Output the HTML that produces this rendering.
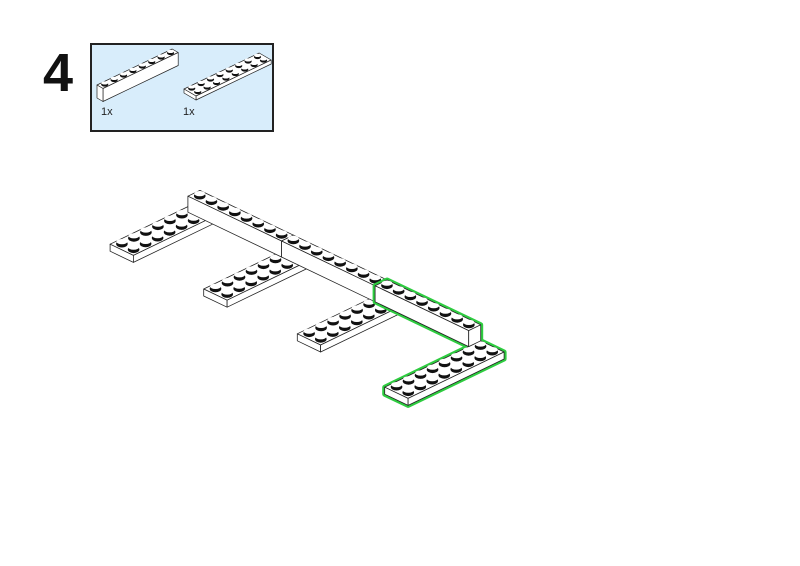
<!DOCTYPE html>
<html><head><meta charset="utf-8"><style>
body{margin:0;background:#fff;width:800px;height:566px;overflow:hidden}
svg{position:absolute;left:0;top:0}
</style></head><body>
<svg id="s" width="800" height="566" xmlns="http://www.w3.org/2000/svg">
<rect x="91" y="44" width="182" height="87" fill="#d8edfb" stroke="#222" stroke-width="2"/>
<text x="43" y="91" font-family="Liberation Sans, sans-serif" font-weight="bold" font-size="54" fill="#111">4</text>
<text x="101" y="115" font-family="Liberation Sans, sans-serif" font-size="11" fill="#222">1x</text>
<text x="183" y="115" font-family="Liberation Sans, sans-serif" font-size="11" fill="#222">1x</text>
<g id="g"></g>
</svg>
<script>
var NS="http://www.w3.org/2000/svg",G=document.getElementById('g');
function mk(X0,Y0,s){return function(u,v,h){return [X0+s*(11.7*u-12*v),Y0+s*(5.6*u+5.8*v)-s*h];};}
function poly(pts,fill,stroke,sw){var p=document.createElementNS(NS,'polygon');p.setAttribute('points',pts.map(function(q){return q[0].toFixed(1)+','+q[1].toFixed(1)}).join(' '));p.setAttribute('fill',fill);p.setAttribute('stroke',stroke);p.setAttribute('stroke-width',sw);p.setAttribute('stroke-linejoin','round');G.appendChild(p);}
function ell(cx,cy,rx,ry,f){var e=document.createElementNS(NS,'ellipse');e.setAttribute('cx',cx);e.setAttribute('cy',cy);e.setAttribute('rx',rx);e.setAttribute('ry',ry);e.setAttribute('fill',f);G.appendChild(e);}
function box(P,u0,u1,v0,v1,h0,h1,stroke,sw){
 stroke=stroke||'#222';sw=sw||0.8;
 poly([P(u0,v0,h1),P(u1,v0,h1),P(u1,v1,h1),P(u0,v1,h1)],'#fff',stroke,sw);
 poly([P(u0,v1,h1),P(u1,v1,h1),P(u1,v1,h0),P(u0,v1,h0)],'#fff',stroke,sw);
 poly([P(u1,v0,h1),P(u1,v1,h1),P(u1,v1,h0),P(u1,v0,h0)],'#fff',stroke,sw);
}
function box2(P,u0,u1,v0,v1,h0,h1){
 poly([P(u0,v0,h1),P(u1,v0,h1),P(u1,v1,h1),P(u0,v1,h1)],'#fff','#222',0.7);
 poly([P(u0,v1,h1),P(u1,v1,h1),P(u1,v1,h0),P(u0,v1,h0)],'#fff','#222',0.7);
 poly([P(u0,v0,h1),P(u0,v1,h1),P(u0,v1,h0),P(u0,v0,h0)],'#fff','#222',0.7);
}
function outline(P,u0,u1,v0,v1,h0,h1){
 poly([P(u0,v0,h1),P(u1,v0,h1),P(u1,v0,h0),P(u1,v1,h0),P(u0,v1,h0),P(u0,v1,h1)],'#fff','#2ecc40',5);
}
function studs(P,u0,u1,v0,v1,h,s,skip){
 var L=[];for(var u=u0+0.5;u<u1;u++)for(var v=v0+0.5;v<v1;v++){if(skip&&skip(u,v))continue;L.push([u,v]);}
 L.sort(function(a,b){var pa=P(a[0],a[1],0),pb=P(b[0],b[1],0);return pa[1]-pb[1];});
 L.forEach(function(q){var c=P(q[0],q[1],h);ell(c[0],c[1]-0.2*s,5.8*s,3.6*s,'#111');ell(c[0],c[1]-2.5*s,5.5*s,2.6*s,'#fff');});
}
var P=mk(199.9,213.4,1),PH=7,BH=23;
var plates=[-0.5,7.5,15.5];
plates.forEach(function(u){box(P,u,u+2,0,7,0,PH);});
plates.forEach(function(u){studs(P,u,u+2,0,7,PH,1,function(a,b){return b<1;});});
box(P,0,8,0,1,PH,BH);box(P,8,16,0,1,PH,BH);
studs(P,0,16,0,1,BH,1);
outline(P,24,26,0,8,0,PH);
outline(P,16,24,0,1,PH,BH);
box(P,24,26,0,8,0,PH);
studs(P,24,26,0,8,PH,1);
box(P,16,24,0,1,PH,BH);
studs(P,16,24,0,1,BH,1);
function mi(X0,Y0){return function(u,v,h){return [X0+9.4*u+6*v,Y0-4.5*u+3.5*v-h];};}
var Q=mi(97,98);
box2(Q,0,8,0,1,0,13);studs(Q,0,8,0,1,13,0.62);
var R=mi(184,93);
box2(R,0,8,0,2,0,4);studs(R,0,8,0,2,4,0.62);
</script>
</body></html>
